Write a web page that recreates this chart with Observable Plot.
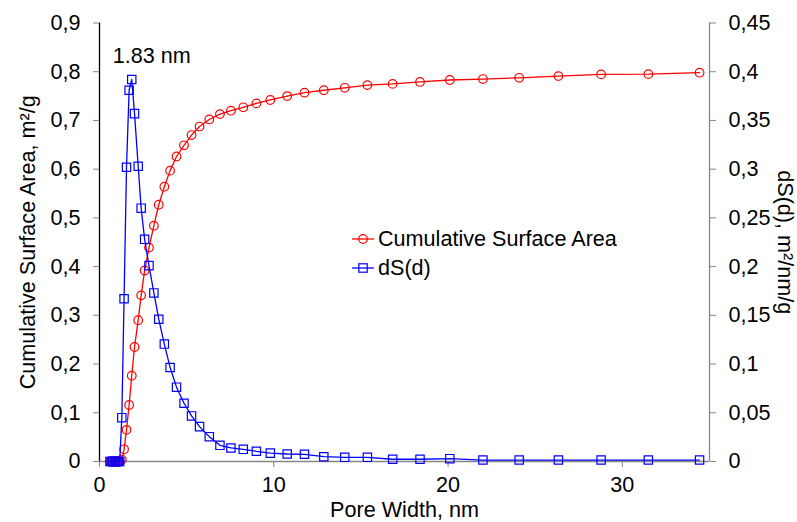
<!DOCTYPE html>
<html>
<head>
<meta charset="utf-8">
<script src="https://cdn.jsdelivr.net/npm/d3@7"></script>
<script src="https://cdn.jsdelivr.net/npm/@observablehq/plot@0.6"></script>
<style>
  html, body { margin: 0; padding: 0; background: #fff; }
  #wrap { position: relative; width: 797px; height: 522px; font-family: "Liberation Sans", Arial, sans-serif; }
  #legend { position: absolute; left: 350px; top: 225px; font-size: 21.6px; color: #000; line-height: 28.7px; }
  #legend .row { display: flex; align-items: center; height: 28.7px; }
  #legend svg { margin-right: 2px; }
</style>
</head>
<body>
<div id="wrap"></div>
<script>
// ---- data ----
const poreWidth = [0.60, 0.68, 0.76, 0.84, 0.92, 1.00, 1.08, 1.16,
  1.28, 1.41, 1.55, 1.70, 1.85, 2.01, 2.22, 2.39, 2.59, 2.84,
  3.12, 3.40, 3.72, 4.05, 4.42, 4.85, 5.28, 5.74, 6.30, 6.91,
  7.54, 8.25, 9.00, 9.80, 10.77, 11.76, 12.87, 14.07, 15.37, 16.82,
  18.39, 20.10, 22.00, 24.08, 26.33, 28.78, 31.49, 34.43];
const cumulativeArea = [0, 0, 0, 0, 0, 0, 0, 0,
  0.004, 0.025, 0.065, 0.116, 0.176, 0.235, 0.290, 0.341, 0.392, 0.439,
  0.484, 0.527, 0.564, 0.597, 0.626, 0.649, 0.670, 0.6875, 0.702, 0.713,
  0.720, 0.727, 0.735, 0.742, 0.750, 0.757, 0.762, 0.767, 0.7725, 0.775,
  0.779, 0.783, 0.785, 0.7875, 0.791, 0.7945, 0.795, 0.798];
const dSd = [0, 0, 0, 0, 0, 0, 0, 0,
  0.045, 0.167, 0.302, 0.381, 0.392, 0.357, 0.303, 0.260, 0.228, 0.201,
  0.173, 0.146, 0.1205, 0.0965, 0.0763, 0.0598, 0.0468, 0.0358, 0.0255, 0.0166,
  0.0139, 0.0125, 0.0105, 0.0086, 0.0077, 0.0074, 0.0049, 0.0043, 0.0043, 0.0023,
  0.0023, 0.0029, 0.0015, 0.0015, 0.0015, 0.0015, 0.0015, 0.0015];
const xTicks = [0, 10, 20, 30];
const yLeftTicks = [0, 0.1, 0.2, 0.3, 0.4, 0.5, 0.6, 0.7, 0.8, 0.9];
const yRightTicks = [0, 0.05, 0.1, 0.15, 0.2, 0.25, 0.3, 0.35, 0.4, 0.45];
const peakLabel = "1.83 nm";
const xTitle = "Pore Width, nm";
const yLeftTitle = "Cumulative Surface Area, m²/g";
const yRightTitle = "dS(d), m²/nm/g";
const seriesNames = ["Cumulative Surface Area", "dS(d)"];

// ---- build ----
const ratio = 2; // right axis maps 0..0.45 onto left 0..0.9
const cumData = poreWidth.map((x, i) => ({x, y: cumulativeArea[i]}));
const dsData = poreWidth.map((x, i) => ({x, y: dSd[i] * ratio, v: dSd[i]}));
const peak = dsData.reduce((a, b) => (b.y > a.y ? b : a));
const fmt = d => String(+d.toFixed(3)).replace(".", ",");

const font = "Liberation Sans, Arial, sans-serif";
const fs = 21.6;
const chart = Plot.plot({
  width: 797,
  height: 522,
  marginLeft: 99,
  marginRight: 88,
  marginTop: 22.5,
  marginBottom: 61,
  style: {fontFamily: font, fontSize: fs + "px", background: "#fff", color: "#000", overflow: "visible"},
  x: {domain: [0, 35]},
  y: {domain: [0, 0.9]},
  marks: [
    Plot.ruleY([0], {stroke: "#868686", strokeWidth: 1.3}),
    Plot.ruleX([35], {stroke: "#868686", strokeWidth: 1.3}),
    Plot.ruleX([0], {stroke: "#000", strokeWidth: 1.3}),
    Plot.axisX({ticks: xTicks, tickSize: 6, tickPadding: 9, stroke: "#868686", fill: "#000", fontSize: fs, label: null, tickFormat: fmt}),
    Plot.axisY({anchor: "left", ticks: yLeftTicks, tickSize: 6, tickPadding: 13, stroke: "#868686", fill: "#000", fontSize: fs, label: null, tickFormat: fmt}),
    Plot.axisY({anchor: "right", ticks: yRightTicks.map(v => v * ratio), tickSize: 6, tickPadding: 13, stroke: "#868686", fill: "#000", fontSize: fs, label: null, tickFormat: d => fmt(d / ratio)}),
    Plot.text([xTitle], {frameAnchor: "bottom", dy: 49, textAnchor: "middle", lineAnchor: "middle", fontSize: fs, fill: "#000"}),
    Plot.text([yLeftTitle], {frameAnchor: "left", dx: -71, rotate: -90, textAnchor: "middle", lineAnchor: "middle", fontSize: fs, fill: "#000"}),
    Plot.text([yRightTitle], {frameAnchor: "right", dx: 75, rotate: 90, textAnchor: "middle", lineAnchor: "middle", fontSize: fs, fill: "#000"}),
    Plot.line(cumData, {x: "x", y: "y", stroke: "#ff0000", strokeWidth: 1.3}),
    Plot.dot(cumData, {x: "x", y: "y", symbol: "circle", r: 4.3, stroke: "#ff0000", strokeWidth: 1.2, fill: "none"}),
    Plot.line(dsData, {x: "x", y: "y", stroke: "#0000ff", strokeWidth: 1.3}),
    Plot.dot(dsData, {x: "x", y: "y", symbol: "square", r: 4.7, stroke: "#0000ff", strokeWidth: 1.2, fill: "none"}),
    Plot.text([peak], {x: "x", y: "y", text: () => peakLabel, dx: 20, dy: -23, fontSize: fs, fill: "#000"})
  ]
});

const wrap = document.getElementById("wrap");
wrap.appendChild(chart);

// legend
const legend = document.createElement("div");
legend.id = "legend";
const sw = (color, marker) => `<svg width="26" height="16" viewBox="0 0 26 16">
  <line x1="2" y1="8" x2="24" y2="8" stroke="${color}" stroke-width="1.3"/>
  ${marker === "circle"
    ? `<circle cx="13" cy="8" r="4.3" fill="none" stroke="${color}" stroke-width="1.2"/>`
    : `<rect x="8.8" y="3.8" width="8.4" height="8.4" fill="none" stroke="${color}" stroke-width="1.2"/>`}
</svg>`;
legend.innerHTML =
  `<div class="row">${sw("#ff0000", "circle")}<span>${seriesNames[0]}</span></div>` +
  `<div class="row">${sw("#0000ff", "square")}<span>${seriesNames[1]}</span></div>`;
wrap.appendChild(legend);
</script>
</body>
</html>
